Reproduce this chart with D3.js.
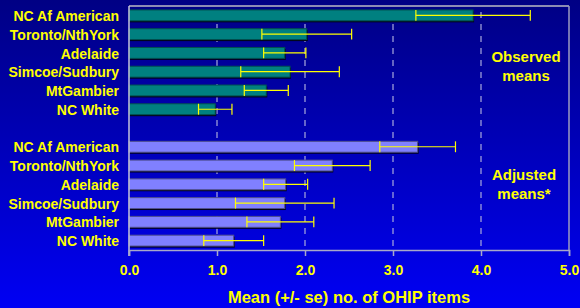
<!DOCTYPE html>
<html>
<head>
<meta charset="utf-8">
<script src="https://cdn.jsdelivr.net/npm/d3@7"></script>
<style>
  body { margin: 0; background: #000090; }
  text { font-family: "Liberation Sans", Arial, sans-serif; font-weight: bold; fill: #ffff00; }
</style>
</head>
<body>
<div id="chart"></div>
<script>
var groups = ["NC Af American", "Toronto/NthYork", "Adelaide", "Simcoe/Sudbury", "MtGambier", "NC White"];
var observedMean = [3.91, 2.02, 1.77, 1.83, 1.56, 0.98];
var observedSe = [0.65, 0.51, 0.24, 0.56, 0.25, 0.19];
var adjustedMean = [3.28, 2.31, 1.78, 1.77, 1.72, 1.19];
var adjustedSe = [0.43, 0.43, 0.25, 0.56, 0.38, 0.34];
var xTicks = [0, 1, 2, 3, 4, 5];

var W = 580, H = 308;
var margin = {top: 6, right: 11, bottom: 58, left: 129},
  width = W - margin.left - margin.right,
  height = H - margin.top - margin.bottom;

// rows: 6 observed, one empty slot, 6 adjusted
var rows = [];
groups.forEach(function(g, i) {
  rows.push({key: "o" + i, name: g, mean: observedMean[i], se: observedSe[i], set: "obs"});
});
groups.forEach(function(g, i) {
  rows.push({key: "a" + i, name: g, mean: adjustedMean[i], se: adjustedSe[i], set: "adj"});
});
var slots = rows.slice(0, 6).map(function(d) { return d.key; })
  .concat(["gap"])
  .concat(rows.slice(6).map(function(d) { return d.key; }));

var svg = d3.select("#chart")
  .append("svg")
  .attr("width", W)
  .attr("height", H);

var grad = svg.append("defs").append("linearGradient")
  .attr("id", "bg").attr("x1", 0).attr("y1", 0).attr("x2", 0).attr("y2", 1);
grad.append("stop").attr("offset", "0%").attr("stop-color", "#000084");
grad.append("stop").attr("offset", "100%").attr("stop-color", "#0000f4");

svg.append("rect").attr("width", W).attr("height", H).attr("fill", "url(#bg)");

var g = svg.append("g")
  .attr("transform", "translate(" + margin.left + "," + margin.top + ")");

var x = d3.scaleLinear().domain([0, 5]).range([0, width]);
var y = d3.scaleBand().domain(slots).range([0, height]).paddingInner(0.42).paddingOuter(0.21);

// dashed grid lines
g.selectAll(".grid")
  .data(xTicks.slice(1, -1))
  .enter()
  .append("line")
    .attr("x1", function(d) { return x(d); })
    .attr("x2", function(d) { return x(d); })
    .attr("y1", 6)
    .attr("y2", height)
    .style("stroke", "#a8a8dc")
    .style("stroke-width", 1.2)
    .style("stroke-dasharray", "6,6");

// frame: top and right
g.append("line").attr("x1", 0).attr("x2", width).attr("y1", 0).attr("y2", 0)
  .style("stroke", "#8c8cb4").style("stroke-width", 2);
g.append("line").attr("x1", width).attr("x2", width).attr("y1", 0).attr("y2", height)
  .style("stroke", "#9c9cc0").style("stroke-width", 1.5);

// bars: shadow then bar
g.selectAll(".shadow")
  .data(rows)
  .enter()
  .append("rect")
    .attr("x", 1)
    .attr("y", function(d) { return y(d.key) + 1.5; })
    .attr("width", function(d) { return x(d.mean); })
    .attr("height", y.bandwidth())
    .style("fill", "#000018");

g.selectAll(".bar")
  .data(rows)
  .enter()
  .append("rect")
    .attr("x", 0)
    .attr("y", function(d) { return y(d.key); })
    .attr("width", function(d) { return x(d.mean); })
    .attr("height", y.bandwidth())
    .style("fill", function(d) { return d.set == "obs" ? "#008080" : "#8080ff"; })
    .style("stroke", function(d) { return d.set == "obs" ? "#005050" : "#50508c"; })
    .style("stroke-width", 1);

// error bars
var err = g.selectAll(".err")
  .data(rows)
  .enter()
  .append("g")
    .style("stroke", "#ffff00")
    .style("stroke-width", 1.2);

err.append("line")
  .attr("x1", function(d) { return x(d.mean - d.se); })
  .attr("x2", function(d) { return x(d.mean + d.se); })
  .attr("y1", function(d) { return y(d.key) + y.bandwidth() / 2; })
  .attr("y2", function(d) { return y(d.key) + y.bandwidth() / 2; });

err.selectAll(".cap")
  .data(function(d) { return [d.mean - d.se, d.mean + d.se].map(function(v) { return {v: v, key: d.key}; }); })
  .enter()
  .append("line")
    .attr("x1", function(d) { return x(d.v); })
    .attr("x2", function(d) { return x(d.v); })
    .attr("y1", function(d) { return y(d.key); })
    .attr("y2", function(d) { return y(d.key) + y.bandwidth(); });

// left axis line
g.append("line").attr("x1", 0).attr("x2", 0).attr("y1", 0).attr("y2", height + 6)
  .style("stroke", "#c4c4dc").style("stroke-width", 1.5);

// bottom axis
var xAxis = g.append("g")
  .attr("transform", "translate(0," + height + ")")
  .call(d3.axisBottom(x).tickValues(xTicks).tickFormat(d3.format(".1f")).tickSize(6).tickPadding(9));
xAxis.select(".domain").style("stroke", "#a8a8c8").style("stroke-width", 1.5);
xAxis.selectAll(".tick line").style("stroke", "#a8a8c8").style("stroke-width", 1.5);
xAxis.selectAll(".tick text")
  .style("font-size", "14px")
  .style("font-family", "'Liberation Sans', Arial, sans-serif")
  .style("font-weight", "bold")
  .attr("fill", "#ffff00");

// category labels
g.selectAll(".label")
  .data(rows)
  .enter()
  .append("text")
    .attr("x", -10)
    .attr("y", function(d) { return y(d.key) + y.bandwidth() / 2; })
    .attr("dy", "0.4em")
    .attr("text-anchor", "end")
    .style("font-size", "14px")
    .text(function(d) { return d.name; });

// section notes
var notes = [
  {lines: ["Observed", "means"], slot: "o3", shift: -4, cx: 397},
  {lines: ["Adjusted", "means*"], slot: "a2", shift: 1.5, cx: 395}
];
notes.forEach(function(n) {
  var t = g.append("text")
    .attr("x", n.cx)
    .attr("y", y(n.slot) + n.shift)
    .attr("text-anchor", "middle")
    .style("font-size", "15px");
  n.lines.forEach(function(l, i) {
    t.append("tspan").attr("x", n.cx).attr("dy", i == 0 ? 0 : 19).text(l);
  });
});

// axis title
svg.append("text")
  .attr("x", margin.left + width / 2)
  .attr("y", 303)
  .attr("text-anchor", "middle")
  .style("font-size", "16.5px")
  .text("Mean (+/- se) no. of OHIP items");
</script>
</body>
</html>
